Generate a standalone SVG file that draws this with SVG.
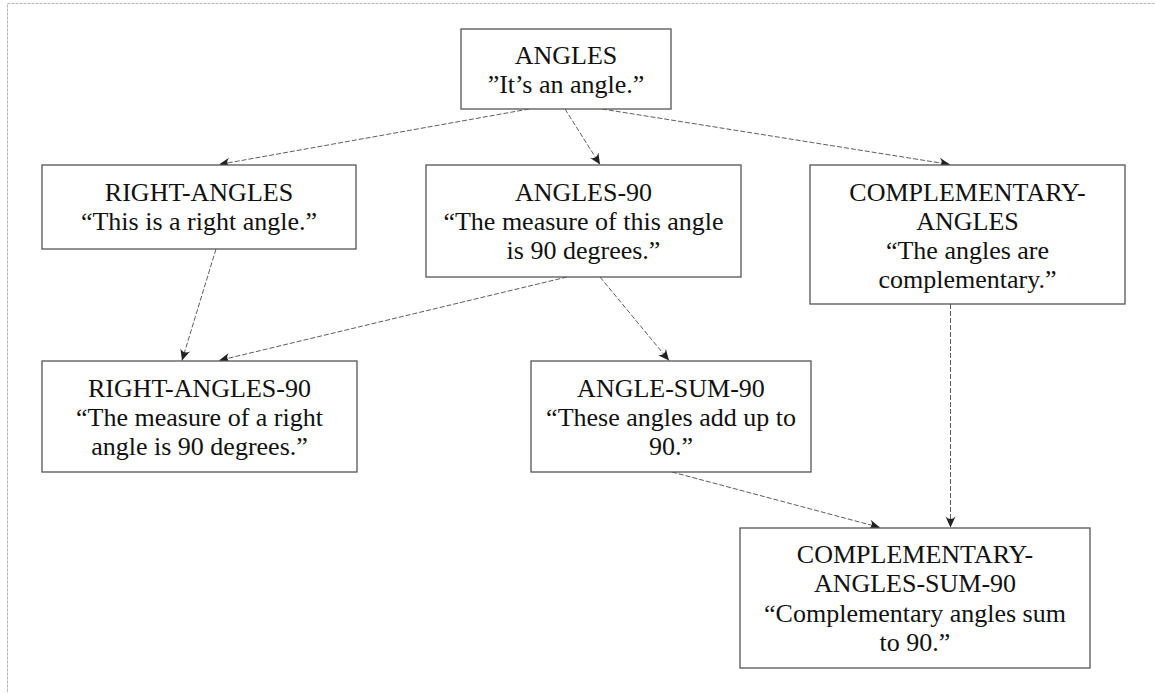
<svg xmlns="http://www.w3.org/2000/svg" width="1155" height="693" viewBox="0 0 1155 693">
  <style>
    .frame { fill: none; stroke: #b4b4b4; stroke-width: 1; stroke-dasharray: 3 1; }
    .box { fill: #ffffff; stroke: #555555; stroke-width: 1.3; }
    .lbl { font-family: "Liberation Serif", "Times New Roman", serif; font-size: 26px; fill: #111111; text-anchor: middle; }
    .edge { fill: none; stroke: #333333; stroke-width: 0.8; stroke-dasharray: 5 2; marker-end: url(#arr); }
  </style>
  <defs>
    <marker id="arr" viewBox="-12 -6 13 12" refX="0" refY="0" markerWidth="13" markerHeight="12" orient="auto" markerUnits="userSpaceOnUse">
      <path d="M0,0 L-11,-5 Q-6,0 -11,5 Z" fill="#222222"/>
    </marker>
  </defs>
  <rect class="frame" x="7.5" y="3.5" width="1160" height="700"/>

  <g id="connectors">
    <line class="edge" x1="529" y1="109" x2="219" y2="164.5"/>
    <line class="edge" x1="565" y1="109" x2="600" y2="164.5"/>
    <line class="edge" x1="602" y1="109" x2="950" y2="164.5"/>
    <line class="edge" x1="216" y1="249" x2="182" y2="360.5"/>
    <line class="edge" x1="567" y1="277" x2="219" y2="360.5"/>
    <line class="edge" x1="600" y1="277" x2="669" y2="360.5"/>
    <line class="edge" x1="672" y1="472" x2="880" y2="527.5"/>
    <line class="edge" x1="950.5" y1="304" x2="950.5" y2="527.5"/>
  </g>

  <g id="node-angles">
    <rect class="box" x="461" y="29" width="210" height="80"/>
    <text class="lbl" x="566" y="63.5">ANGLES</text>
    <text class="lbl" x="566" y="93">”It’s an angle.”</text>
  </g>

  <g id="node-right-angles">
    <rect class="box" x="42" y="165" width="314" height="84"/>
    <text class="lbl" x="199" y="200.5">RIGHT-ANGLES</text>
    <text class="lbl" x="199" y="229.5">“This is a right angle.”</text>
  </g>

  <g id="node-angles-90">
    <rect class="box" x="426" y="165" width="315" height="112"/>
    <text class="lbl" x="583.5" y="200.5">ANGLES-90</text>
    <text class="lbl" x="583.5" y="229.5">“The measure of this angle</text>
    <text class="lbl" x="583.5" y="258.5">is 90 degrees.”</text>
  </g>

  <g id="node-complementary-angles">
    <rect class="box" x="810" y="165" width="315" height="139"/>
    <text class="lbl" x="967.5" y="200.5">COMPLEMENTARY-</text>
    <text class="lbl" x="967.5" y="229.5">ANGLES</text>
    <text class="lbl" x="967.5" y="258.5">“The angles are</text>
    <text class="lbl" x="967.5" y="287.5">complementary.”</text>
  </g>

  <g id="node-right-angles-90">
    <rect class="box" x="42" y="361" width="315" height="111"/>
    <text class="lbl" x="199.5" y="396.5">RIGHT-ANGLES-90</text>
    <text class="lbl" x="199.5" y="425.5">“The measure of a right</text>
    <text class="lbl" x="199.5" y="454.5">angle is 90 degrees.”</text>
  </g>

  <g id="node-angle-sum-90">
    <rect class="box" x="531" y="361" width="280" height="111"/>
    <text class="lbl" x="671" y="396.5">ANGLE-SUM-90</text>
    <text class="lbl" x="671" y="425.5">“These angles add up to</text>
    <text class="lbl" x="671" y="454.5">90.”</text>
  </g>

  <g id="node-complementary-angles-sum-90">
    <rect class="box" x="740" y="528" width="350" height="140"/>
    <text class="lbl" x="915" y="563">COMPLEMENTARY-</text>
    <text class="lbl" x="915" y="592">ANGLES-SUM-90</text>
    <text class="lbl" x="915" y="621.5">“Complementary angles sum</text>
    <text class="lbl" x="915" y="651">to 90.”</text>
  </g>
</svg>
